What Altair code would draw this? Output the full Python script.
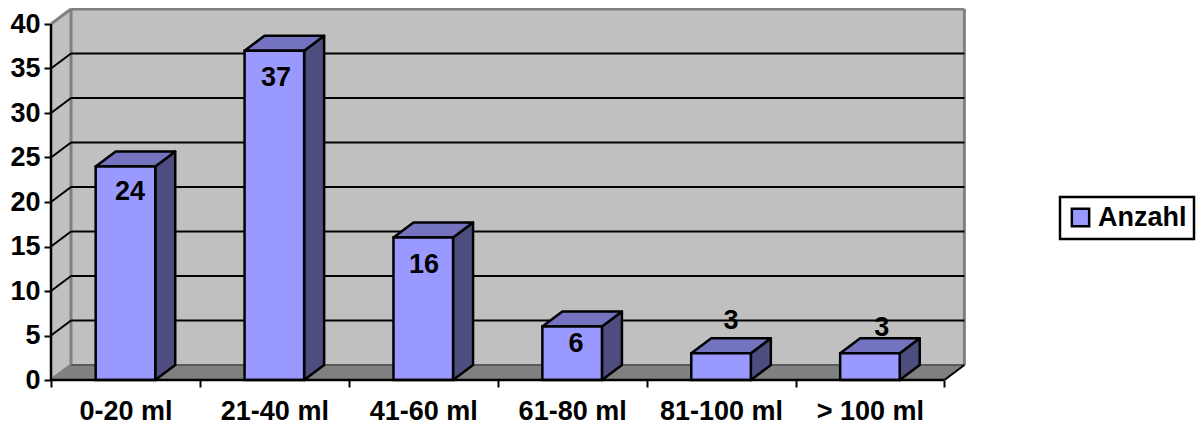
import json
import altair as alt
import pandas as pd

categories = ["0-20 ml", "21-40 ml", "41-60 ml", "61-80 ml", "81-100 ml", "> 100 ml"]
values = [24, 37, 16, 6, 3, 3]
label_x = [0.53, 1.511, 2.505, 3.526, 4.567, 5.58]
label_y = [21.1, 33.9, 12.9, 4.0, 6.6, 5.8]
y_ticks = [0, 5, 10, 15, 20, 25, 30, 35, 40]
series_name = "Anzahl"

FONT = "Liberation Sans"
FS = 27
BAR = "#9999FF"
SIDE = "#4D4D80"
TOP = "#7373BF"
WALL = "#C0C0C0"
FLOOR = "#808080"
EDGE = "#808080"

PX_X, PX_Y = 148.9, 8.9          # pixels per category / per value unit
W, H = 914, 371
dx, dy = 20 / PX_X, 15 / PX_Y    # depth of the 3D projection, in data units
n = len(categories)
ymax = 40.0
left, right = 0.3, 0.7           # bar extent within a category

xs = alt.Scale(domain=[0, W / PX_X], range=[0, W], nice=False, zero=False)
ys = alt.Scale(domain=[0, H / PX_Y], range=[H, 0], nice=False, zero=False)

labels_js = json.dumps(categories)
xaxis = alt.Axis(
    title=None, grid=False, domain=False,
    values=[i / 2 for i in range(2 * n + 1)],
    labelExpr=f"datum.value % 1 ? {labels_js}[floor(datum.value)] : ''",
    labelFont=FONT, labelFontWeight="bold", labelFontSize=FS, labelColor="black",
    labelOverlap=False, labelBound=False, labelFlush=False, labelPadding=11,
    tickColor="black", tickWidth=2, tickSize=7,
    tickOpacity={"condition": {"test": "datum.value % 1 != 0", "value": 0}, "value": 1},
)
yaxis = alt.Axis(
    title=None, grid=False, domain=False, values=y_ticks,
    labelFont=FONT, labelFontWeight="bold", labelFontSize=FS, labelColor="black",
    labelPadding=4, labelOverlap=False, labelBound=False, labelFlush=False,
    tickColor="black", tickWidth=2, tickSize=7,
)
X = alt.X("x:Q", scale=xs, axis=xaxis)
Y = alt.Y("y:Q", scale=ys, axis=yaxis)
X2, Y2 = alt.X2("x2:Q"), alt.Y2("y2:Q")


def vertical_area(rows, fill, **mark):
    """rows: id, x, y, y2"""
    df = pd.DataFrame(rows, columns=["id", "x", "y", "y2"])
    return alt.Chart(df).mark_area(fill=fill, **mark).encode(x=X, y=Y, y2=Y2, detail="id:N")


def horizontal_area(rows, fill, **mark):
    """rows: id, y, x, x2"""
    df = pd.DataFrame(rows, columns=["id", "y", "x", "x2"])
    return alt.Chart(df).mark_area(fill=fill, orient="horizontal", **mark).encode(y=Y, x=X, x2=X2, detail="id:N")


def rules(rows, color, width):
    df = pd.DataFrame(rows, columns=["x", "y", "x2", "y2"])
    return alt.Chart(df).mark_rule(color=color, strokeWidth=width).encode(x=X, y=Y, x2=X2, y2=Y2)


back_wall = vertical_area([(0, dx, dy, ymax + dy), (0, n + dx, dy, ymax + dy)], WALL)
left_wall = vertical_area([(0, 0, 0, ymax), (0, dx, dy, ymax + dy)], WALL)
floor = horizontal_area([(0, 0, 0, n), (0, dy, dx, n + dx)], FLOOR)

inner = [v for v in y_ticks if 0 < v < ymax]
grid_back = rules([(dx, v + dy, n + dx, v + dy) for v in inner], "black", 2)
grid_left = rules([(0, v, dx, v + dy) for v in inner], "black", 2)
wall_edges = rules(
    [
        (dx, dy, dx, ymax + dy),
        (n + dx, dy, n + dx, ymax + dy),
        (dx, ymax + dy, n + dx, ymax + dy),
        (0, ymax, dx, ymax + dy),
        (0, 0, dx, dy),
    ],
    EDGE, 3,
)
floor_edge = rules([(dx, dy, n + dx, dy)], "#5A5A5A", 2)
floor_right = rules([(n, 0, n + dx, dy)], "black", 2)

side_rows, top_rows, front_rows = [], [], []
for i, v in enumerate(values):
    x0, x1 = i + left, i + right
    side_rows += [(i, x1, 0, v), (i, x1 + dx, dy, v + dy)]
    top_rows += [(i, v, x0, x1), (i, v + dy, x0 + dx, x1 + dx)]
    front_rows.append({"x": x0, "x2": x1, "y": 0, "y2": v, "series": series_name})

sides = vertical_area(side_rows, SIDE, stroke="black", strokeWidth=2.5, strokeJoin="round")
tops = horizontal_area(top_rows, TOP, stroke="black", strokeWidth=2.5, strokeJoin="round")
fronts = (
    alt.Chart(pd.DataFrame(front_rows))
    .mark_rect(stroke="black", strokeWidth=2.5)
    .encode(
        x=X, x2=X2, y=Y, y2=Y2,
        color=alt.Color(
            "series:N",
            scale=alt.Scale(domain=[series_name], range=[BAR]),
            legend=alt.Legend(
                title=None, orient="none", legendX=1009, legendY=188,
                labelFont=FONT, labelFontWeight="bold", labelFontSize=27, labelColor="black",
                symbolType="square", symbolSize=300, symbolStrokeColor="black",
                symbolStrokeWidth=2.5, symbolFillColor=BAR, symbolOpacity=1,
                fillColor="white", strokeColor="black", padding=7, labelOffset=4,
            ),
        ),
    )
)

axis_x_line = rules([(0, 0, n, 0)], "black", 2.5)
axis_y_line = rules([(0, 0, 0, ymax)], "black", 2.5)

text_df = pd.DataFrame({"x": label_x, "y": label_y, "t": [str(v) for v in values]})
texts = (
    alt.Chart(text_df)
    .mark_text(font=FONT, fontWeight="bold", fontSize=FS, color="black", align="center", baseline="middle")
    .encode(x=X, y=Y, text="t:N")
)

chart = (
    alt.layer(
        back_wall, left_wall, floor, wall_edges, floor_edge, floor_right,
        grid_back, grid_left, sides, tops, fronts, axis_x_line, axis_y_line, texts,
    )
    .properties(
        width=W, height=H,
        autosize=alt.AutoSizeParams(type="none"),
        padding={"left": 43, "top": 1, "right": 231, "bottom": 45},
        background="white",
    )
    .configure_view(stroke=None)
    .configure_legend(strokeWidth=2.5)
)

chart.save("out.html", embed_options={"renderer": "svg", "actions": False})
